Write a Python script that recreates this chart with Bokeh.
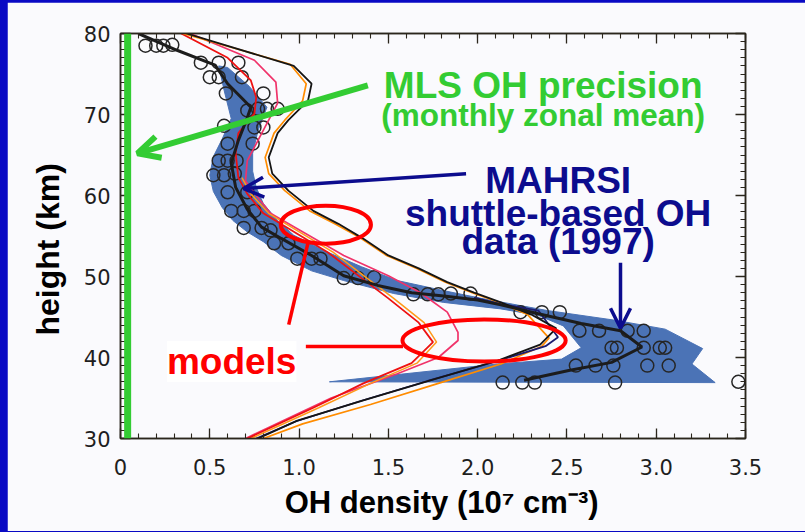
from bokeh.plotting import figure
from bokeh.models import (Range1d, LinearAxis, SingleIntervalTicker, CustomJSTickFormatter,
                          Span, Arrow, OpenHead, Label)
from bokeh.embed import file_html
from bokeh.resources import INLINE

# ---------------- data ----------------
# MAHRSI uncertainty envelope (OH density 1e7 cm-3, height km)
band_x = [0.55, 0.58, 0.62, 0.57, 0.52, 0.50, 0.52, 0.57, 0.63, 0.71, 0.80, 0.90, 1.07, 1.25, 1.53,
          1.81, 2.13, 2.34, 2.48, 2.58, 2.47, 2.11, 1.17, 3.33, 3.20, 3.26, 3.05, 2.77, 2.39, 2.02,
          1.80, 1.55, 1.35, 1.16, 0.97, 0.88, 0.80, 0.76, 0.74, 0.74, 0.77, 0.82, 0.72, 0.60]
band_y = [76.0, 73.0, 69.5, 67.0, 64.8, 62.5, 60.5, 58.5, 56.9, 55.5, 54.3, 52.6, 50.7, 49.5, 47.9,
          46.8, 46.0, 45.2, 43.9, 41.2, 39.8, 39.2, 37.0, 36.9, 39.2, 41.1, 43.5, 44.6, 45.8, 47.3,
          48.3, 49.5, 51.2, 53.0, 55.1, 56.9, 59.0, 61.0, 63.0, 65.2, 68.0, 70.9, 73.5, 75.8]

# MAHRSI mean profile
mean_x = [0.10, 0.32, 0.53, 0.60, 0.73, 0.71, 0.66, 0.62, 0.645, 0.71, 0.79, 0.90, 1.07, 1.25, 1.44,
          1.63, 1.81, 2.00, 2.13, 2.34, 2.58, 2.80, 2.92, 2.75, 2.51, 2.26]
mean_y = [80.0, 77.9, 76.1, 73.8, 70.9, 69.6, 66.8, 64.0, 61.0, 58.3, 56.1, 54.7, 52.6, 50.1, 48.9,
          48.0, 47.6, 47.1, 46.5, 45.4, 44.2, 43.3, 41.3, 39.4, 38.4, 37.2]

# MAHRSI individual measurements
obs_x = [0.14, 0.20, 0.24, 0.29, 0.45, 0.55, 0.66, 0.50, 0.55, 0.68, 0.59, 0.80, 0.71, 0.77, 0.82, 0.88,
         0.58, 0.75, 0.80, 0.60, 0.74, 0.55, 0.60, 0.65, 0.52, 0.58, 0.64, 0.60, 0.71, 0.62, 0.69, 0.75,
         0.69, 0.79, 0.84, 0.86, 0.94, 0.99, 1.07, 1.12, 1.25, 1.33, 1.42, 1.64, 1.72, 1.78, 1.85, 1.96,
         2.24, 2.36, 2.46, 2.57, 2.68, 2.84, 2.93, 2.75, 2.78, 2.93, 3.02, 3.05, 2.55, 2.66, 2.76, 2.95,
         3.07, 2.14, 2.25, 2.32, 2.77, 3.46]
obs_y = [78.5, 78.5, 78.5, 78.6, 76.4, 76.4, 76.4, 74.6, 74.6, 74.6, 72.6, 72.6, 70.5, 70.7, 70.7, 70.7,
         68.6, 68.4, 68.4, 66.4, 66.4, 64.3, 64.3, 64.3, 62.5, 62.5, 62.7, 60.4, 60.4, 58.1, 58.1, 58.1,
         56.0, 56.0, 55.7, 54.1, 54.1, 52.2, 52.2, 52.2, 49.8, 49.8, 49.9, 47.8, 47.8, 47.8, 47.9, 47.9,
         45.6, 45.6, 45.6, 43.3, 43.3, 43.3, 43.3, 41.2, 41.2, 41.2, 41.2, 41.2, 39.0, 39.0, 39.0, 39.0,
         39.0, 36.9, 36.9, 36.9, 36.9, 37.0]

# model profiles
black_x = [0.37, 0.97, 1.07, 1.05, 0.94, 0.88, 0.83, 0.85, 0.94, 1.08, 1.22, 1.35, 1.50, 1.67, 1.83,
           1.98, 2.13, 2.30, 2.44, 2.35, 2.11, 1.74, 1.36, 0.99, 0.77]
black_y = [80.0, 76.0, 73.8, 71.7, 69.3, 67.7, 64.7, 62.7, 60.6, 58.1, 56.5, 54.8, 52.6, 51.0, 49.3,
           48.0, 46.8, 45.3, 43.6, 41.6, 39.6, 37.2, 34.7, 32.2, 30.0]
orange_x = [0.35, 0.95, 1.04, 1.02, 0.92, 0.86, 0.81, 0.83, 0.92, 1.06, 1.20, 1.34, 1.49, 1.66, 1.82,
            1.97, 2.12, 2.28, 2.40, 2.36, 2.13, 1.78, 1.40, 1.02, 0.80]
orange_y = [80.0, 76.2, 73.8, 71.7, 69.3, 67.7, 64.7, 62.7, 60.6, 58.1, 56.5, 54.8, 52.6, 51.0, 49.3,
            48.0, 46.8, 45.3, 42.4, 41.4, 39.2, 36.8, 34.2, 31.8, 30.0]
navy_x = [1.98, 2.13, 2.34, 2.45, 2.38, 2.10, 1.72, 1.34, 0.98, 0.76]
navy_y = [47.4, 46.6, 45.8, 42.5, 41.4, 39.5, 37.1, 34.6, 32.1, 30.0]
red_x = [0.34, 0.60, 0.73, 0.76, 0.75, 0.66, 0.645, 0.66, 0.71, 0.80, 0.95, 1.16, 1.35, 1.50, 1.67,
         1.75, 1.63, 1.36, 1.08, 0.71]
red_y = [80.0, 77.0, 74.2, 72.1, 70.1, 67.7, 65.2, 62.2, 60.2, 57.8, 55.8, 53.0, 49.8, 47.3, 44.3,
         41.9, 39.3, 36.8, 33.8, 30.0]
orange2_x = [0.68, 0.73, 0.83, 0.98, 1.19, 1.38, 1.53, 1.70, 1.77, 1.66, 1.40, 1.11, 0.73]
orange2_y = [62.2, 60.2, 57.8, 55.8, 53.0, 49.8, 47.3, 44.3, 41.9, 39.3, 36.8, 33.8, 30.0]
pink_x = [0.39, 0.75, 0.87, 0.88, 0.77, 0.71, 0.70, 0.76, 0.84, 0.99, 1.25, 1.50, 1.68, 1.83, 1.89,
          1.89, 1.78, 1.55, 1.18, 0.70]
pink_y = [80.0, 76.7, 74.0, 71.4, 66.8, 64.3, 61.8, 60.0, 57.8, 55.9, 52.6, 50.1, 48.0, 45.6, 43.1,
          42.1, 40.0, 38.0, 35.0, 30.0]

# MLS precision
mls_precision = 0.04

x_tick_interval = 0.5
y_tick_interval = 10

# ---------------- styling ----------------
BG = "#fafafd"
FRAME = "#2b261c"
GREEN = "#33cc33"
NAVY = "#0c0c8e"
RED = "#ff0000"

p = figure(width=798, height=529, x_range=Range1d(0, 3.5), y_range=Range1d(30, 80),
           output_backend="svg", toolbar_location=None,
           min_border_left=113, min_border_right=60, min_border_top=31, min_border_bottom=93,
           background_fill_color=BG, border_fill_color=BG)
p.grid.visible = False
p.outline_line_color = FRAME
p.outline_line_width = 1.5

xfmt = CustomJSTickFormatter(code="return tick == 0 ? '0' : tick.toFixed(1);")
blank = CustomJSTickFormatter(code="return '';")


def style_axis(ax, show_labels):
    ax.axis_line_color = FRAME
    ax.axis_line_width = 1.5
    ax.major_tick_line_color = FRAME
    ax.minor_tick_line_color = FRAME
    ax.major_tick_line_width = 1.3
    ax.minor_tick_line_width = 1.1
    ax.major_tick_in = 10
    ax.major_tick_out = 0
    ax.minor_tick_in = 5
    ax.minor_tick_out = 0
    if show_labels:
        ax.major_label_text_font = "DejaVu Sans"
        ax.major_label_text_font_size = "21px"
        ax.major_label_text_color = "#1e1e1e"
    else:
        ax.formatter = blank
        ax.major_label_standoff = 0


xa = p.xaxis[0]
xa.ticker = SingleIntervalTicker(interval=x_tick_interval, num_minor_ticks=5)
xa.formatter = xfmt
style_axis(xa, True)
xa.major_label_standoff = 20
xa.axis_label = "\u00a0\u00a0OH density (10\u2077 cm\u207b\u00b3)"
xa.axis_label_standoff = 7
xa.axis_label_text_font = "Liberation Sans"
xa.axis_label_text_font_style = "bold"
xa.axis_label_text_font_size = "31px"
xa.axis_label_text_color = "#000000"

ya = p.yaxis[0]
ya.ticker = SingleIntervalTicker(interval=y_tick_interval, num_minor_ticks=10)
style_axis(ya, True)
ya.major_label_standoff = 10
ya.axis_label = "height (km)\u00a0\u00a0\u00a0"
ya.axis_label_standoff = 15
ya.axis_label_text_font = "Liberation Sans"
ya.axis_label_text_font_style = "bold"
ya.axis_label_text_font_size = "32px"
ya.axis_label_text_color = "#000000"

ra = LinearAxis(ticker=SingleIntervalTicker(interval=y_tick_interval, num_minor_ticks=10))
style_axis(ra, False)
p.add_layout(ra, "right")
ta = LinearAxis(ticker=SingleIntervalTicker(interval=x_tick_interval, num_minor_ticks=5))
style_axis(ta, False)
p.add_layout(ta, "above")

# ---------------- data marks ----------------
p.patch(band_x, band_y, fill_color="#4b73b6", line_color="#4b73b6", line_width=1)
p.scatter(obs_x, obs_y, marker="circle", size=13, fill_alpha=0, line_color="#262626", line_width=1.5)
p.line(pink_x, pink_y, line_color="#f0336a", line_width=1.7)
p.line(orange2_x, orange2_y, line_color="#ff9a1a", line_width=1.5)
p.line(red_x, red_y, line_color="#ee1111", line_width=1.8)
p.line(orange_x, orange_y, line_color="#ff8c00", line_width=1.7)
p.line(navy_x, navy_y, line_color="#1c1c70", line_width=1.8)
p.line(black_x, black_y, line_color="#151515", line_width=1.8)
p.line(mean_x, mean_y, line_color="#1c1c1c", line_width=3)

# ---------------- annotations ----------------
p.add_layout(Span(location=mls_precision, dimension="height", line_color=GREEN, line_width=7))
p.add_layout(Arrow(end=OpenHead(line_color=GREEN, line_width=6, size=22),
                   x_start=1.385, y_start=73.6, x_end=0.095, y_end=65.2,
                   line_color=GREEN, line_width=6))
p.add_layout(Label(x=2.367, y=73.6, text="MLS OH precision", text_align="center",
                   text_baseline="alphabetic", text_font="Liberation Sans", text_font_style="bold",
                   text_font_size="37px", text_color=GREEN))
p.add_layout(Label(x=2.367, y=69.9, text="(monthly zonal mean)", text_align="center",
                   text_baseline="alphabetic", text_font="Liberation Sans", text_font_style="bold",
                   text_font_size="31.5px", text_color=GREEN))

for txt, yy in [("MAHRSI", 61.85), ("shuttle-based OH", 57.8), ("data (1997)", 54.3)]:
    p.add_layout(Label(x=2.451, y=yy, text=txt, text_align="center", text_baseline="alphabetic",
                       text_font="Liberation Sans", text_font_style="bold",
                       text_font_size="37px", text_color=NAVY))
p.add_layout(Arrow(end=OpenHead(line_color=NAVY, line_width=3.5, size=20),
                   x_start=1.935, y_start=62.7, x_end=0.69, y_end=60.86,
                   line_color=NAVY, line_width=3.5))
p.add_layout(Arrow(end=OpenHead(line_color=NAVY, line_width=3.5, size=20),
                   x_start=2.80, y_start=51.7, x_end=2.80, y_end=43.6,
                   line_color=NAVY, line_width=3.5))

p.ellipse(x=[1.15], y=[56.4], width=0.505, height=4.7, fill_color=None, line_color=RED, line_width=4)
p.ellipse(x=[2.036], y=[42.1], width=0.914, height=5.2, fill_color=None, line_color=RED, line_width=4)
p.add_layout(Arrow(end=None, x_start=0.942, y_start=44.07, x_end=1.049, y_end=54.07,
                   line_color=RED, line_width=3.5))
p.add_layout(Arrow(end=None, x_start=1.038, y_start=41.36, x_end=1.582, y_end=41.36,
                   line_color=RED, line_width=3.5))
p.add_layout(Label(x=0.6225, y=39.5, text="models", text_align="center", text_baseline="alphabetic",
                   text_font="Liberation Sans", text_font_style="bold", text_font_size="37px",
                   text_color=RED, background_fill_color="#ffffff"))

html = file_html(p, INLINE, title="OH density profiles")
html = html.replace("</head>", "<style>html,body{margin:0 !important;background:#0a0ac4 !important;"
                    "overflow:hidden !important}body{padding:2px 0 0 7px !important;}</style></head>", 1)
open("out.html", "w").write(html)
